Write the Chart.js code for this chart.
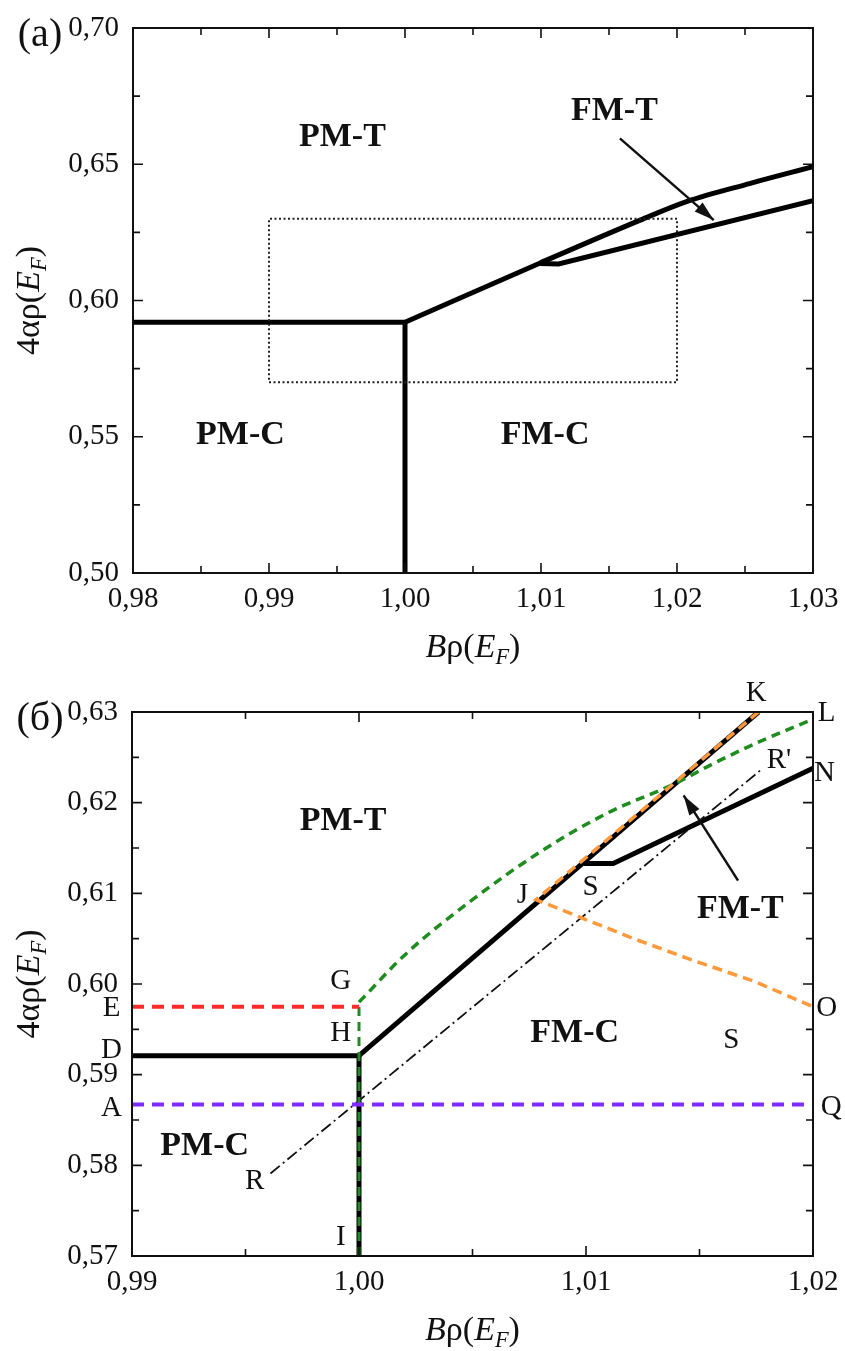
<!DOCTYPE html>
<html>
<head>
<meta charset="utf-8">
<script src="https://cdn.jsdelivr.net/npm/chart.js@4.4.0/dist/chart.umd.min.js"></script>
<style>
html, body { margin: 0; padding: 0; background: #fff; }
#wrap { position: relative; width: 845px; height: 1351px; }
canvas { position: absolute; left: 0; }
#chartA { top: 0; }
#chartB { top: 676px; }
</style>
</head>
<body>
<div id="wrap">
  <canvas id="chartA" width="845" height="676"></canvas>
  <canvas id="chartB" width="845" height="675"></canvas>
</div>
<script>
const SERIF = "'Liberation Serif', 'Times New Roman', serif";

// ---- panel (a) ----
const aFlatX = [0.98, 1.00];
const aFlatY = [0.592, 0.592];
const aVertX = [1.00, 1.00];
const aVertY = [0.50, 0.592];
const aUpperX = [1.00, 1.0099, 1.0173, 1.0207, 1.0254, 1.03];
const aUpperY = [0.592, 0.6137, 0.6295, 0.6363, 0.643, 0.6491];
const aLowerX = [1.0099, 1.0113, 1.03];
const aLowerY = [0.6136, 0.6134, 0.6366];
const aBoxX = [0.99, 1.02, 1.02, 0.99, 0.99];
const aBoxY = [0.57, 0.57, 0.63, 0.63, 0.57];
const aArrowX = [1.0158, 1.0227];
const aArrowY = [0.6595, 0.6295];
const aRegionText = ["PM-T", "FM-T", "PM-C", "FM-C"];
const aRegionX = [0.9954, 1.0154, 0.9879, 1.0103];
const aRegionY = [0.6601, 0.6693, 0.5506, 0.5506];

// ---- panel (б) ----
const bFlatX = [0.99, 1.00];
const bFlatY = [0.5921, 0.5921];
const bVertX = [1.00, 1.00];
const bVertY = [0.57, 0.5921];
const bMainX = [1.00, 1.0176];
const bMainY = [0.5921, 0.63];
const bLowerX = [1.0099, 1.0112, 1.02];
const bLowerY = [0.6133, 0.6133, 0.6238];
const bGreenVX = [1.00, 1.00];
const bGreenVY = [0.57, 0.598];
const bGreenX = [1.00, 1.0021, 1.005, 1.008, 1.0109, 1.014, 1.0156, 1.0178, 1.02];
const bGreenY = [0.598, 0.6034, 0.6093, 0.6146, 0.6188, 0.6222, 0.6243, 0.6269, 0.6292];
const bOrangeX = [1.0176, 1.0078, 1.0097, 1.0121, 1.0145, 1.0174, 1.02];
const bOrangeY = [0.63, 0.6093, 0.6074, 0.605, 0.6028, 0.6003, 0.5975];
const bRedX = [0.99, 1.00];
const bRedY = [0.5975, 0.5975];
const bPurpleX = [0.99, 1.02];
const bPurpleY = [0.5867, 0.5867];
const bDashDotX = [0.9961, 1.0177];
const bDashDotY = [0.5791, 0.6236];
const bArrowX = [1.0167, 1.0143];
const bArrowY = [0.6114, 0.6208];
const bRegionText = ["PM-T", "FM-T", "FM-C", "PM-C"];
const bRegionX = [0.9993, 1.0168, 1.0095, 0.9932];
const bRegionY = [0.6179, 0.6082, 0.5946, 0.5821];
const bLetterText = ["K", "L", "R'", "N", "J", "S", "G", "E", "H", "D", "A", "Q", "O", "R", "I", "S"];
const bLetterX = [1.0175, 1.0206, 1.0185, 1.0205, 1.0072, 1.0102, 0.9992, 0.9891, 0.9992, 0.9891, 0.9891, 1.0208, 1.0206, 0.9954, 0.9992, 1.0164];
const bLetterY = [0.6321, 0.6299, 0.6247, 0.6232, 0.6098, 0.6107, 0.6003, 0.5973, 0.5946, 0.5927, 0.5863, 0.5864, 0.5973, 0.5782, 0.5721, 0.5938];

function pts(xs, ys) { return xs.map((x, i) => ({ x: x, y: ys[i] })); }
function comma(v, d) { return v.toFixed(d).replace(".", ","); }

function line(xs, ys, color, width, dash, extra) {
    return Object.assign({
        data: pts(xs, ys),
        showLine: true,
        borderColor: color,
        backgroundColor: color,
        borderWidth: width,
        borderDash: dash || [],
        pointRadius: 0,
        tension: 0,
        fill: false
    }, extra || {});
}

// draw text made of pieces (italic, subscript), centred on x,y
function drawRich(ctx, parts, x, y, size) {
    const fontOf = p => (p.it ? "italic " : "") + (p.sub ? size * 0.66 : size) + "px " + SERIF;
    let total = 0;
    parts.forEach(p => { ctx.font = fontOf(p); total += ctx.measureText(p.t).width; });
    let cx = x - total / 2;
    ctx.textAlign = "left";
    ctx.textBaseline = "middle";
    parts.forEach(p => {
        ctx.font = fontOf(p);
        ctx.fillText(p.t, cx, p.sub ? y + size * 0.3 : y);
        cx += ctx.measureText(p.t).width;
    });
}

const xTitle = [{ t: "B", it: true }, { t: "\u03c1(" }, { t: "E", it: true }, { t: "F", it: true, sub: true }, { t: ")" }];
const yTitle = [{ t: "4\u03b1\u03c1(" }, { t: "E", it: true }, { t: "F", it: true, sub: true }, { t: ")" }];

const decor = {
    id: "decor",
    afterDraw(chart, args, o) {
        const { ctx, chartArea: ca, scales: { x, y } } = chart;
        ctx.save();
        // frame
        ctx.strokeStyle = "#111";
        ctx.lineWidth = 2;
        ctx.setLineDash([]);
        ctx.strokeRect(ca.left, ca.top, ca.right - ca.left, ca.bottom - ca.top);
        // inward ticks on all four sides, minor ticks halfway
        ctx.lineWidth = 1.6;
        const tickSet = (scale) => {
            const v = scale.ticks.map(t => t.value);
            const out = v.map(val => ({ val: val, len: 10 }));
            for (let i = 0; i < v.length - 1; i++) out.push({ val: (v[i] + v[i + 1]) / 2, len: 7 });
            return out;
        };
        tickSet(x).forEach(t => {
            const px = x.getPixelForValue(t.val);
            ctx.beginPath();
            ctx.moveTo(px, ca.bottom); ctx.lineTo(px, ca.bottom - t.len);
            ctx.moveTo(px, ca.top); ctx.lineTo(px, ca.top + t.len);
            ctx.stroke();
        });
        tickSet(y).forEach(t => {
            const py = y.getPixelForValue(t.val);
            ctx.beginPath();
            ctx.moveTo(ca.left, py); ctx.lineTo(ca.left + t.len, py);
            ctx.moveTo(ca.right, py); ctx.lineTo(ca.right - t.len, py);
            ctx.stroke();
        });
        // arrow heads at the end of arrow datasets
        chart.data.datasets.forEach((ds, i) => {
            if (!ds.arrow) return;
            const p = chart.getDatasetMeta(i).data;
            const a = p[p.length - 2], b = p[p.length - 1];
            const ang = Math.atan2(b.y - a.y, b.x - a.x);
            ctx.fillStyle = "#111";
            ctx.beginPath();
            ctx.moveTo(b.x, b.y);
            ctx.lineTo(b.x - 20 * Math.cos(ang) + 6 * Math.sin(ang), b.y - 20 * Math.sin(ang) - 6 * Math.cos(ang));
            ctx.lineTo(b.x - 20 * Math.cos(ang) - 6 * Math.sin(ang), b.y - 20 * Math.sin(ang) + 6 * Math.cos(ang));
            ctx.closePath();
            ctx.fill();
        });
        ctx.fillStyle = "#111";
        ctx.textAlign = "center";
        ctx.textBaseline = "middle";
        // region names
        ctx.font = "bold 34px " + SERIF;
        o.regionText.forEach((t, i) => {
            ctx.fillText(t, x.getPixelForValue(o.regionX[i]), y.getPixelForValue(o.regionY[i]));
        });
        // point letters
        ctx.font = "29px " + SERIF;
        (o.letterText || []).forEach((t, i) => {
            ctx.fillText(t, x.getPixelForValue(o.letterX[i]), y.getPixelForValue(o.letterY[i]));
        });
        // panel tag
        ctx.font = "40px " + SERIF;
        ctx.fillText(o.tag, 40, ca.top + 7);
        // axis titles
        drawRich(ctx, xTitle, (ca.left + ca.right) / 2, ca.bottom + 75, 34);
        ctx.translate(30, (ca.top + ca.bottom) / 2);
        ctx.rotate(-Math.PI / 2);
        drawRich(ctx, yTitle, 0, 0, 34);
        ctx.restore();
    }
};

function makeChart(id, datasets, xr, yr, pad, yWidth, deco) {
    return new Chart(document.getElementById(id), {
        type: "scatter",
        data: { datasets: datasets },
        options: {
            responsive: false,
            animation: false,
            devicePixelRatio: 1,
            layout: { padding: pad },
            scales: {
                x: {
                    type: "linear",
                    min: xr[0], max: xr[1],
                    grid: { display: false, drawTicks: false },
                    border: { display: false },
                    afterFit: s => { s.height = 60; s.paddingLeft = 0; s.paddingRight = 0; },
                    ticks: {
                        stepSize: xr[2],
                        autoSkip: false,
                        maxRotation: 0,
                        padding: 9,
                        color: "#111",
                        font: { family: SERIF, size: 29 },
                        callback: v => comma(v, 2)
                    }
                },
                y: {
                    type: "linear",
                    min: yr[0], max: yr[1],
                    grid: { display: false, drawTicks: false },
                    border: { display: false },
                    afterFit: s => { s.width = yWidth; s.paddingTop = 0; s.paddingBottom = 0; },
                    ticks: {
                        stepSize: yr[2],
                        autoSkip: false,
                        padding: 14,
                        color: "#111",
                        font: { family: SERIF, size: 29 },
                        callback: v => comma(v, 2)
                    }
                }
            },
            plugins: {
                legend: { display: false },
                tooltip: { enabled: false },
                decor: deco
            }
        },
        plugins: [decor]
    });
}

// first dataset is drawn on top
makeChart("chartA", [
    line(aArrowX, aArrowY, "#111", 2.5, [], { arrow: true }),
    line(aBoxX, aBoxY, "#222", 2, [2, 2.5]),
    line(aFlatX, aFlatY, "#000", 5),
    line(aVertX, aVertY, "#000", 5),
    line(aUpperX, aUpperY, "#000", 5, [], { cubicInterpolationMode: "monotone" }),
    line(aLowerX, aLowerY, "#000", 5)
], [0.98, 1.03, 0.01], [0.50, 0.70, 0.05],
   { left: 0, right: 32, top: 28, bottom: 43 }, 133,
   { tag: "(a)", regionText: aRegionText, regionX: aRegionX, regionY: aRegionY });

makeChart("chartB", [
    line(bArrowX, bArrowY, "#111", 2.5, [], { arrow: true }),
    line(bPurpleX, bPurpleY, "#7f2cff", 4, [12, 8]),
    line(bRedX, bRedY, "#ff2a2a", 4, [12, 8]),
    line(bOrangeX, bOrangeY, "#ff9a3c", 3.5, [10, 6]),
    line(bGreenVX, bGreenVY, "#1e8c1e", 3, [9, 6]),
    line(bGreenX, bGreenY, "#1e8c1e", 3.5, [9, 6], { cubicInterpolationMode: "monotone" }),
    line(bDashDotX, bDashDotY, "#111", 1.8, [12, 4, 2, 4]),
    line(bFlatX, bFlatY, "#000", 5),
    line(bVertX, bVertY, "#000", 5),
    line(bMainX, bMainY, "#000", 5),
    line(bLowerX, bLowerY, "#000", 5)
], [0.99, 1.02, 0.01], [0.57, 0.63, 0.01],
   { left: 0, right: 32, top: 36, bottom: 35 }, 132,
   { tag: "(\u0431)", regionText: bRegionText, regionX: bRegionX, regionY: bRegionY,
     letterText: bLetterText, letterX: bLetterX, letterY: bLetterY });
</script>
</body>
</html>
